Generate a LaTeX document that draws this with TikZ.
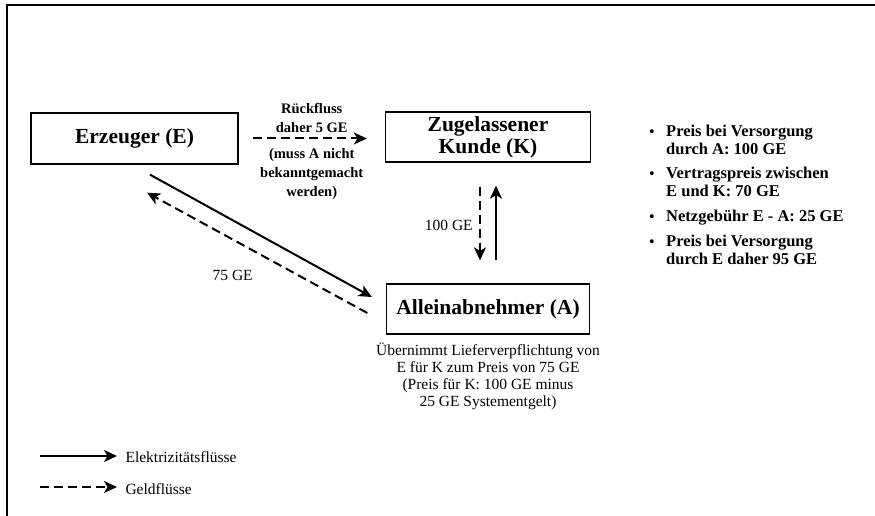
\documentclass[tikz,border=0pt]{standalone}
\usepackage{fontspec}
\setmainfont{Liberation Serif}
\usetikzlibrary{arrows.meta,positioning}

\tikzset{
  kasten/.style={draw, line width=1.3pt, minimum width=205pt, minimum height=50pt,
    inner sep=0pt, align=center, font=\bfseries\fontsize{21.5}{22}\selectfont},
  strom/.style={line width=2pt, -{Stealth[length=13pt,width=12pt,inset=3.5pt]}},
  geld/.style={strom, dash pattern=on 9pt off 5pt},
  klein/.style={align=center, font=\fontsize{15.5}{16.8}\selectfont},
  fett/.style={align=center, font=\bfseries\fontsize{14.5}{19}\selectfont},
  punkt/.style={align=left, inner sep=0pt, font=\bfseries\fontsize{16.5}{17.5}\selectfont}
}

\begin{document}
\begin{tikzpicture}[x=1pt,y=-1pt]
    \useasboundingbox (0,0) rectangle (875,516);
    % frame
    \draw[line width=1.3pt] (7,516) -- (7,5) -- (875,5);

    \node[kasten, minimum width=207pt, minimum height=51pt] (E) at (134.5,138.5) {Erzeuger (E)};
    \node[kasten] (K) at (488,137) {Zugelassener\\Kunde (K)};
    \node[kasten, minimum width=203pt] (A) at (488,309) {Alleinabnehmer (A)};
    \node[klein, below=5pt of A] (Atext) {Übernimmt Lieferverpflichtung von\\E für K zum Preis von 75 GE\\(Preis für K: 100 GE minus\\25 GE Systementgelt)};

    % flows
    \draw[geld, shorten <=14pt, shorten >=18pt] (E.east) -- (E.east -| K.west)
        node[midway, above=2pt, fett] {Rückfluss\\daher 5 GE}
        node[midway, below=5.5pt, fett] {(muss A nicht\\bekanntgemacht\\werden)};
    \draw[strom] ([xshift=15.5pt,yshift=-10pt]E.south) -- ([xshift=-14pt,yshift=12pt]A.west);
    \draw[geld] ([xshift=-18.5pt,yshift=-4pt]A.west) -- ([xshift=12.5pt,yshift=-28pt]E.south)
        node[midway, klein, xshift=-24.5pt, yshift=-23pt] {75 GE};
    \draw[geld] ([xshift=-8pt,yshift=-24pt]K.south) -- ([xshift=-8pt,yshift=23pt]A.north)
        node[midway, left=3pt, yshift=-2pt, klein] {100 GE};
    \draw[strom] ([xshift=8pt,yshift=23pt]A.north) -- ([xshift=8pt,yshift=-23pt]K.south);

    % notes
    \foreach \y/\txt [count=\i] in {125/{Preis bei Versorgung\\durch A: 100 GE},
            167/{Vertragspreis zwischen\\E und K: 70 GE},
            210/{Netzgebühr E - A: 25 GE},
            235/{Preis bei Versorgung\\durch E daher 95 GE}} {
        \node[punkt, anchor=north west] (note\i) at (666,\y) {\txt};
        \node[punkt, anchor=base, font=\bfseries\fontsize{14.5}{14.5}\selectfont] at (652,\y+11) {•};
    }

    % legend
    \coordinate (l1) at (40,456);
    \coordinate (l2) at (40,487);
    \node[klein, anchor=west] (elek) at (122,457) {Elektrizitätsflüsse};
    \node[klein, anchor=west] (geldl) at (122,489) {Geldflüsse};
    \draw[strom, shorten >=5pt] (l1) -- (l1 -| elek.west);
    \draw[geld, shorten >=5pt] (l2) -- (l2 -| geldl.west);
\end{tikzpicture}
\end{document}
